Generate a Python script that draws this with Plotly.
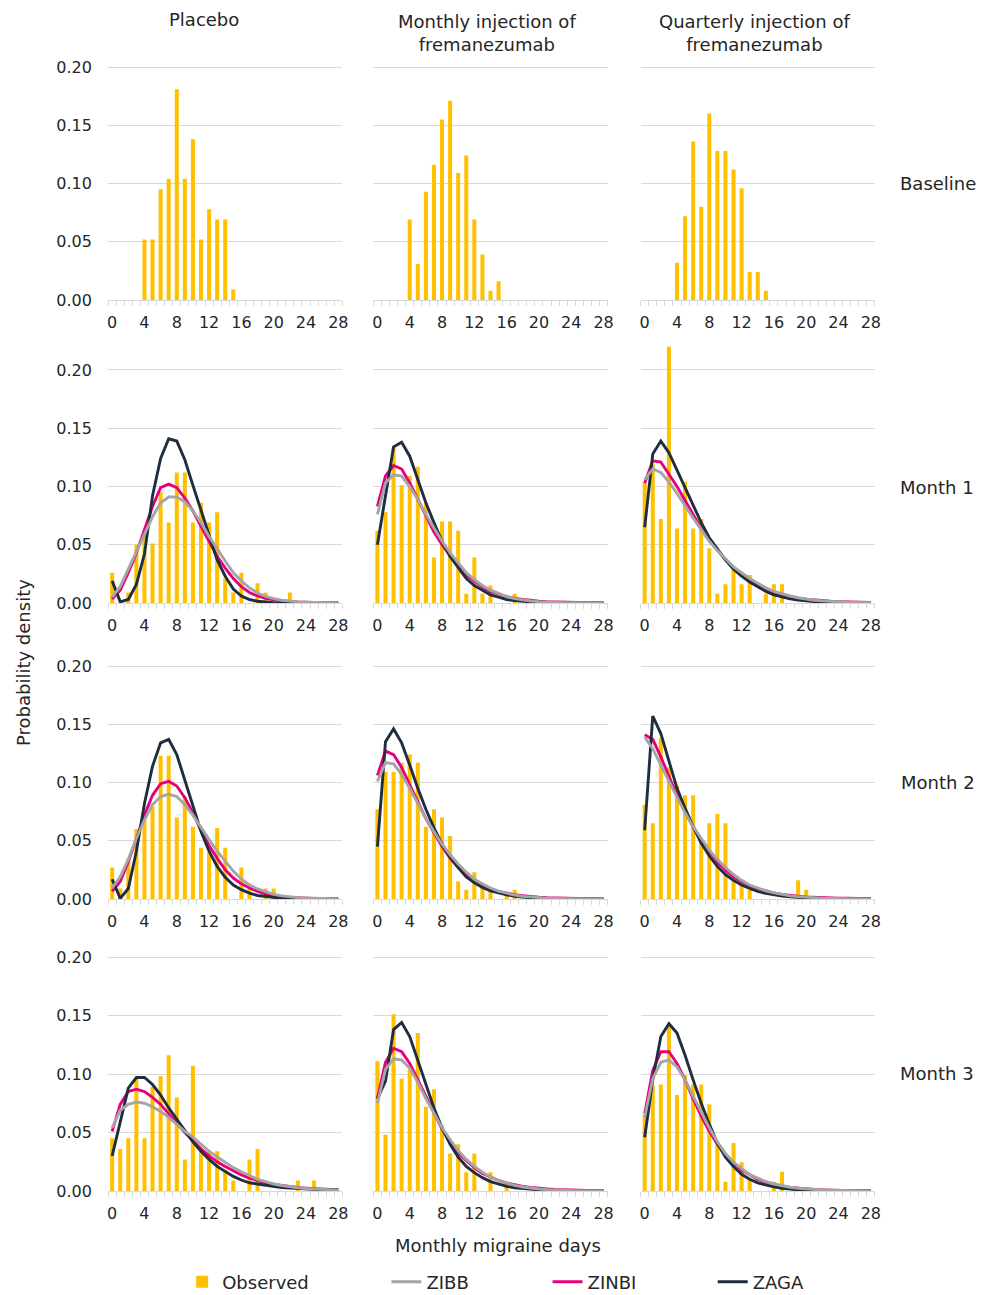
import plotly.graph_objects as go

# ---------------- data ----------------
days = list(range(29))
x_tick_vals = [0, 4, 8, 12, 16, 20, 24, 28]
y_tick_vals = [0.0, 0.05, 0.10, 0.15, 0.20]

column_titles = ["Placebo", "Monthly injection of<br>fremanezumab", "Quarterly injection of<br>fremanezumab"]
row_titles = ["Baseline", "Month 1", "Month 2", "Month 3"]
series_names = ["Observed", "ZIBB", "ZINBI", "ZAGA"]

def pad(v):
    return v + [0] * (29 - len(v))

# Observed (bars)
obs_base_pbo = pad([0, 0, 0, 0, 0.052, 0.052, 0.095, 0.104, 0.181, 0.104, 0.138, 0.052, 0.078, 0.069, 0.069, 0.009])
obs_base_mon = pad([0, 0, 0, 0, 0.069, 0.031, 0.093, 0.116, 0.155, 0.171, 0.109, 0.124, 0.069, 0.039, 0.008, 0.016])
obs_base_qtr = pad([0, 0, 0, 0, 0.032, 0.072, 0.136, 0.080, 0.160, 0.128, 0.128, 0.112, 0.096, 0.024, 0.024, 0.008])

obs_m1_pbo = pad([0.026, 0, 0.009, 0.050, 0.060, 0.051, 0.095, 0.069, 0.112, 0.112, 0.069, 0.086, 0.069, 0.078, 0.021, 0.009, 0.026, 0, 0.017, 0.009, 0, 0, 0.009])
obs_m1_mon = pad([0.062, 0.078, 0.133, 0.101, 0.109, 0.117, 0.086, 0.039, 0.070, 0.070, 0.062, 0.008, 0.039, 0.008, 0.015, 0, 0, 0.008])
obs_m1_qtr = pad([0.104, 0.119, 0.072, 0.220, 0.064, 0.104, 0.064, 0.072, 0.047, 0.008, 0.016, 0.032, 0.016, 0.024, 0, 0.008, 0.016, 0.016])

obs_m2_pbo = pad([0.027, 0.009, 0.035, 0.060, 0.070, 0.079, 0.123, 0.123, 0.070, 0.088, 0.062, 0.044, 0.040, 0.061, 0.044, 0, 0.027, 0.009, 0, 0.009, 0.009])
obs_m2_mon = pad([0.077, 0.109, 0.109, 0.117, 0.124, 0.117, 0.062, 0.077, 0.070, 0.054, 0.015, 0.008, 0.023, 0.012, 0.008, 0, 0.005, 0.008])
obs_m2_qtr = pad([0.081, 0.065, 0.138, 0.113, 0.097, 0.089, 0.089, 0.049, 0.065, 0.073, 0.065, 0.016, 0.016, 0.008, 0, 0, 0, 0, 0, 0.016, 0.008])

obs_m3_pbo = pad([0.045, 0.036, 0.045, 0.096, 0.045, 0.089, 0.098, 0.116, 0.080, 0.027, 0.107, 0.036, 0.034, 0.034, 0.018, 0.009, 0, 0.027, 0.036, 0, 0, 0, 0, 0.009, 0, 0.009])
obs_m3_mon = pad([0.111, 0.048, 0.151, 0.096, 0.104, 0.135, 0.072, 0.087, 0.056, 0.032, 0.040, 0.016, 0.032, 0, 0.016, 0, 0.008])
obs_m3_qtr = pad([0.065, 0.090, 0.091, 0.141, 0.082, 0.099, 0.091, 0.091, 0.074, 0.040, 0.008, 0.041, 0.0245, 0.011, 0, 0, 0.008, 0.0165])

# Fitted distributions (lines)
zibb_m1_pbo = [0.005, 0.014, 0.029, 0.044, 0.060, 0.074, 0.086, 0.091, 0.091, 0.087, 0.079, 0.069, 0.057, 0.046, 0.036, 0.026, 0.019, 0.013, 0.0086, 0.0057, 0.0037, 0.0024, 0.0015, 0.001, 0.0006, 0.0004, 0.0003, 0.0002, 0.0001]
zinbi_m1_pbo = [0.0034, 0.011, 0.026, 0.043, 0.063, 0.083, 0.099, 0.102, 0.099, 0.090, 0.079, 0.066, 0.053, 0.040, 0.030, 0.021, 0.014, 0.009, 0.006, 0.004, 0.0027, 0.0018, 0.0012, 0.0008, 0.0005, 0.0003, 0.0002, 0.0001, 0.0001]
zaga_m1_pbo = [0.019, 0.001, 0.003, 0.016, 0.042, 0.092, 0.124, 0.141, 0.139, 0.123, 0.101, 0.080, 0.057, 0.037, 0.023, 0.012, 0.006, 0.003, 0.0015, 0.0007, 0.0003, 0.0001, 0, 0, 0, 0, 0, 0, 0]

zibb_m1_mon = [0.076, 0.103, 0.110, 0.109, 0.100, 0.089, 0.076, 0.064, 0.053, 0.043, 0.034, 0.026, 0.020, 0.015, 0.011, 0.008, 0.0055, 0.0038, 0.0026, 0.0017, 0.0011, 0.0007, 0.0005, 0.0003, 0.0002, 0.0001, 0.0001, 0.0001, 0]
zinbi_m1_mon = [0.083, 0.109, 0.118, 0.115, 0.103, 0.089, 0.074, 0.061, 0.050, 0.040, 0.031, 0.024, 0.019, 0.014, 0.010, 0.0075, 0.0055, 0.004, 0.003, 0.002, 0.0015, 0.0011, 0.0008, 0.0006, 0.0004, 0.0003, 0.0002, 0.0002, 0.0001]
zaga_m1_mon = [0.050, 0.092, 0.134, 0.138, 0.126, 0.106, 0.086, 0.069, 0.053, 0.040, 0.030, 0.021, 0.015, 0.011, 0.007, 0.005, 0.003, 0.002, 0.0013, 0.0008, 0.0005, 0.0003, 0.0002, 0.0001, 0, 0, 0, 0, 0]

zibb_m1_qtr = [0.106, 0.115, 0.112, 0.104, 0.094, 0.083, 0.073, 0.063, 0.053, 0.045, 0.038, 0.031, 0.026, 0.021, 0.017, 0.013, 0.010, 0.0077, 0.006, 0.0045, 0.0033, 0.0024, 0.0018, 0.0013, 0.0009, 0.0007, 0.0005, 0.0003, 0.0002]
zinbi_m1_qtr = [0.103, 0.122, 0.121, 0.111, 0.100, 0.088, 0.076, 0.064, 0.054, 0.045, 0.037, 0.030, 0.024, 0.019, 0.015, 0.012, 0.009, 0.007, 0.0055, 0.0042, 0.0033, 0.0025, 0.0019, 0.0015, 0.0012, 0.0009, 0.0007, 0.0005, 0.0004]
zaga_m1_qtr = [0.065, 0.128, 0.139, 0.129, 0.114, 0.099, 0.083, 0.069, 0.056, 0.046, 0.037, 0.029, 0.023, 0.018, 0.014, 0.010, 0.007, 0.005, 0.0035, 0.0025, 0.0017, 0.0012, 0.0008, 0.0005, 0.0003, 0.0002, 0.0001, 0.0001, 0]

zibb_m2_pbo = [0.0094, 0.019, 0.034, 0.052, 0.068, 0.081, 0.088, 0.090, 0.088, 0.081, 0.072, 0.061, 0.051, 0.041, 0.032, 0.024, 0.017, 0.012, 0.0086, 0.006, 0.004, 0.0027, 0.0018, 0.0012, 0.0008, 0.0005, 0.0003, 0.0002, 0.0001]
zinbi_m2_pbo = [0.0066, 0.015, 0.032, 0.052, 0.072, 0.089, 0.099, 0.101, 0.097, 0.087, 0.074, 0.059, 0.046, 0.035, 0.025, 0.018, 0.013, 0.0094, 0.0066, 0.0045, 0.003, 0.002, 0.0014, 0.0009, 0.0006, 0.0004, 0.0003, 0.0002, 0.0001]
zaga_m2_pbo = [0.017, 0.0005, 0.009, 0.041, 0.082, 0.114, 0.134, 0.137, 0.124, 0.102, 0.079, 0.058, 0.041, 0.028, 0.0186, 0.012, 0.008, 0.005, 0.003, 0.002, 0.001, 0.0006, 0.0003, 0.0002, 0.0001, 0, 0, 0, 0]

zibb_m2_mon = [0.101, 0.117, 0.116, 0.107, 0.095, 0.082, 0.069, 0.058, 0.047, 0.038, 0.030, 0.023, 0.017, 0.013, 0.0094, 0.0068, 0.0048, 0.0034, 0.0023, 0.0016, 0.0011, 0.0007, 0.0005, 0.0003, 0.0002, 0.0001, 0.0001, 0.0001, 0]
zinbi_m2_mon = [0.106, 0.127, 0.124, 0.113, 0.098, 0.084, 0.069, 0.057, 0.045, 0.035, 0.027, 0.021, 0.016, 0.012, 0.0086, 0.0066, 0.005, 0.0038, 0.0028, 0.002, 0.0015, 0.0011, 0.0008, 0.0006, 0.0004, 0.0003, 0.0002, 0.0002, 0.0001]
zaga_m2_mon = [0.045, 0.135, 0.146, 0.134, 0.115, 0.095, 0.077, 0.061, 0.047, 0.036, 0.027, 0.019, 0.014, 0.010, 0.007, 0.005, 0.0035, 0.0024, 0.0016, 0.001, 0.0007, 0.0004, 0.0003, 0.0002, 0.0001, 0, 0, 0, 0]

zibb_m2_qtr = [0.139, 0.129, 0.115, 0.101, 0.087, 0.074, 0.062, 0.052, 0.042, 0.034, 0.027, 0.021, 0.016, 0.012, 0.0094, 0.007, 0.0052, 0.0038, 0.0027, 0.002, 0.0014, 0.001, 0.0007, 0.0005, 0.0003, 0.0002, 0.0002, 0.0001, 0.0001]
zinbi_m2_qtr = [0.141, 0.137, 0.122, 0.105, 0.089, 0.075, 0.062, 0.051, 0.041, 0.032, 0.025, 0.019, 0.015, 0.011, 0.0089, 0.0068, 0.0052, 0.004, 0.003, 0.0024, 0.0018, 0.0014, 0.0011, 0.0009, 0.0007, 0.0006, 0.0005, 0.0004, 0.0003]
zaga_m2_qtr = [0.059, 0.157, 0.142, 0.118, 0.095, 0.078, 0.062, 0.048, 0.037, 0.028, 0.021, 0.016, 0.012, 0.009, 0.0065, 0.0048, 0.0035, 0.0025, 0.0018, 0.0013, 0.0009, 0.0006, 0.0004, 0.0003, 0.0002, 0.0001, 0.0001, 0, 0]

zibb_m3_pbo = [0.054, 0.069, 0.074, 0.076, 0.075, 0.072, 0.068, 0.063, 0.057, 0.051, 0.046, 0.040, 0.034, 0.029, 0.0245, 0.020, 0.0165, 0.013, 0.010, 0.008, 0.006, 0.0047, 0.0036, 0.0028, 0.0021, 0.0016, 0.0012, 0.0009, 0.0007]
zinbi_m3_pbo = [0.051, 0.074, 0.085, 0.087, 0.085, 0.080, 0.074, 0.066, 0.058, 0.050, 0.043, 0.036, 0.030, 0.025, 0.021, 0.017, 0.0137, 0.011, 0.0088, 0.007, 0.0057, 0.0046, 0.0037, 0.003, 0.0025, 0.002, 0.0017, 0.0014, 0.0012]
zaga_m3_pbo = [0.030, 0.059, 0.088, 0.097, 0.097, 0.091, 0.082, 0.071, 0.061, 0.051, 0.042, 0.034, 0.027, 0.021, 0.0165, 0.0125, 0.0094, 0.007, 0.006, 0.0048, 0.0038, 0.003, 0.0025, 0.002, 0.0017, 0.0014, 0.0012, 0.001, 0.0008]

zibb_m3_mon = [0.075, 0.104, 0.113, 0.112, 0.105, 0.093, 0.079, 0.066, 0.054, 0.044, 0.0345, 0.027, 0.021, 0.016, 0.012, 0.009, 0.0066, 0.0048, 0.0034, 0.0024, 0.0017, 0.0012, 0.0008, 0.0006, 0.0004, 0.0003, 0.0002, 0.0001, 0.0001]
zinbi_m3_mon = [0.079, 0.110, 0.122, 0.119, 0.109, 0.095, 0.080, 0.066, 0.053, 0.042, 0.033, 0.026, 0.020, 0.015, 0.0117, 0.009, 0.0068, 0.0052, 0.004, 0.003, 0.0022, 0.0017, 0.0013, 0.001, 0.0008, 0.0006, 0.0004, 0.0003, 0.0002]
zaga_m3_mon = [0.079, 0.094, 0.138, 0.144, 0.132, 0.112, 0.091, 0.071, 0.054, 0.040, 0.029, 0.021, 0.0157, 0.0114, 0.008, 0.0057, 0.004, 0.0028, 0.002, 0.0014, 0.001, 0.0007, 0.0005, 0.0003, 0.0002, 0.0001, 0.0001, 0, 0]

zibb_m3_qtr = [0.063, 0.096, 0.110, 0.112, 0.106, 0.095, 0.081, 0.067, 0.054, 0.042, 0.032, 0.0245, 0.019, 0.014, 0.011, 0.008, 0.006, 0.0044, 0.0032, 0.0023, 0.0016, 0.0011, 0.0008, 0.0006, 0.0004, 0.0003, 0.0002, 0.0001, 0.0001]
zinbi_m3_qtr = [0.066, 0.103, 0.119, 0.119, 0.109, 0.095, 0.079, 0.064, 0.051, 0.040, 0.031, 0.024, 0.018, 0.0137, 0.010, 0.0077, 0.0057, 0.0042, 0.0031, 0.0023, 0.0017, 0.0013, 0.001, 0.0007, 0.0005, 0.0004, 0.0003, 0.0002, 0.0002]
zaga_m3_qtr = [0.046, 0.095, 0.132, 0.143, 0.135, 0.116, 0.095, 0.075, 0.057, 0.041, 0.029, 0.021, 0.0143, 0.010, 0.007, 0.005, 0.0035, 0.0024, 0.0016, 0.001, 0.0007, 0.0004, 0.0003, 0.0002, 0.0001, 0, 0, 0, 0]

observed = [
    [obs_base_pbo, obs_base_mon, obs_base_qtr],
    [obs_m1_pbo, obs_m1_mon, obs_m1_qtr],
    [obs_m2_pbo, obs_m2_mon, obs_m2_qtr],
    [obs_m3_pbo, obs_m3_mon, obs_m3_qtr],
]
fits = {
    1: [(zibb_m1_pbo, zinbi_m1_pbo, zaga_m1_pbo), (zibb_m1_mon, zinbi_m1_mon, zaga_m1_mon), (zibb_m1_qtr, zinbi_m1_qtr, zaga_m1_qtr)],
    2: [(zibb_m2_pbo, zinbi_m2_pbo, zaga_m2_pbo), (zibb_m2_mon, zinbi_m2_mon, zaga_m2_mon), (zibb_m2_qtr, zinbi_m2_qtr, zaga_m2_qtr)],
    3: [(zibb_m3_pbo, zinbi_m3_pbo, zaga_m3_pbo), (zibb_m3_mon, zinbi_m3_mon, zaga_m3_mon), (zibb_m3_qtr, zinbi_m3_qtr, zaga_m3_qtr)],
}

# ---------------- style / layout ----------------
REF_W, REF_H = 989, 1295          # coordinates below are measured on this grid
W, H = 997, 1305                  # figure size (compensates the capture scaling)
FONT = "DejaVu Sans"
TXT = "#262626"
GRID = "#d9d9d9"
C_OBS = "#FFC000"
C_ZIBB = "#A5A5A5"
C_ZINBI = "#E6007E"
C_ZAGA = "#1F2D40"
LW = 2.9

col_px = [(107, 341), (372, 606), (639, 873)]
row_px = [(300, 67), (603, 370), (899, 666), (1191, 957)]  # pixel y of 0 and of 0.20
Y_TOP = 0.225

def px_x(x):
    return x / REF_W

def px_y(y):
    return 1 - y / REF_H

fig = go.Figure()
layout = dict(
    width=W, height=H, margin=dict(l=0, r=0, t=0, b=0),
    paper_bgcolor="white", plot_bgcolor="white",
    font=dict(family=FONT, color=TXT, size=16),
    barmode="overlay",
)

for r in range(4):
    y0, y20 = row_px[r]
    per = (y0 - y20) / 0.20
    ytop = y0 - Y_TOP * per
    for c in range(3):
        k = r * 3 + c + 1
        xa = "x" if k == 1 else f"x{k}"
        ya = "y" if k == 1 else f"y{k}"
        layout["xaxis" if k == 1 else f"xaxis{k}"] = dict(
            domain=[px_x(col_px[c][0]), px_x(col_px[c][1])],
            anchor=ya, range=[-0.5, 28.5],
            tickmode="array", tickvals=x_tick_vals,
            ticks="outside", ticklen=8, tickcolor="rgba(0,0,0,0)",
            tickfont=dict(size=16, color=TXT, family=FONT),
            showline=True, linecolor=GRID, linewidth=1,
            showgrid=False, zeroline=False,
            minor=dict(tickvals=[i - 0.5 for i in range(30)], ticks="outside",
                       ticklen=5, tickcolor=GRID, showgrid=False),
            fixedrange=True,
        )
        layout["yaxis" if k == 1 else f"yaxis{k}"] = dict(
            domain=[px_y(y0), px_y(ytop)],
            anchor=xa, range=[0, Y_TOP],
            tickmode="array", tickvals=y_tick_vals, tickformat=".2f",
            showticklabels=(c == 0),
            ticks="outside" if c == 0 else "", ticklen=12, tickcolor="rgba(0,0,0,0)",
            tickfont=dict(size=16, color=TXT, family=FONT),
            showgrid=True, gridcolor=GRID, gridwidth=1,
            zeroline=False, showline=False, fixedrange=True,
        )
        fig.add_trace(go.Bar(
            x=days, y=observed[r][c], width=0.5, marker=dict(color=C_OBS, line=dict(width=0)),
            name=series_names[0], xaxis=xa, yaxis=ya,
            showlegend=(r == 0 and c == 0), legend="legend",
        ))
        if r > 0:
            zibb, zinbi, zaga = fits[r][c]
            first = (r == 1 and c == 0)
            fig.add_trace(go.Scatter(x=days, y=zinbi, mode="lines", name=series_names[2],
                                     line=dict(color=C_ZINBI, width=LW), xaxis=xa, yaxis=ya,
                                     showlegend=first, legend="legend3"))
            fig.add_trace(go.Scatter(x=days, y=zaga, mode="lines", name=series_names[3],
                                     line=dict(color=C_ZAGA, width=LW), xaxis=xa, yaxis=ya,
                                     showlegend=first, legend="legend4"))
            fig.add_trace(go.Scatter(x=days, y=zibb, mode="lines", name=series_names[1],
                                     line=dict(color=C_ZIBB, width=LW), xaxis=xa, yaxis=ya,
                                     showlegend=first, legend="legend2"))

# legends (one per entry, placed independently)
leg_y = px_y(1282)
for key, xp in [("legend", 181), ("legend2", 385), ("legend3", 546), ("legend4", 711)]:
    layout[key] = dict(x=px_x(xp), y=leg_y, xanchor="left", yanchor="middle",
                       orientation="h", bgcolor="rgba(0,0,0,0)", borderwidth=0,
                       font=dict(size=18, color=TXT, family=FONT), itemwidth=30)

annotations = []
col_title_pos = [(203, 20), (486, 33), (753, 33)]
for (xp, yp), t in zip(col_title_pos, column_titles):
    annotations.append(dict(text=t, x=px_x(xp), y=px_y(yp), xref="paper", yref="paper",
                            xanchor="center", yanchor="middle", showarrow=False,
                            font=dict(size=18, color=TXT, family=FONT)))
row_title_pos = [(936, 184), (935, 487), (936, 782), (935, 1073)]
for (xp, yp), t in zip(row_title_pos, row_titles):
    annotations.append(dict(text=t, x=px_x(xp), y=px_y(yp), xref="paper", yref="paper",
                            xanchor="center", yanchor="middle", showarrow=False,
                            font=dict(size=18, color=TXT, family=FONT)))
annotations.append(dict(text="Probability density", x=px_x(22), y=px_y(663), xref="paper", yref="paper",
                        xanchor="center", yanchor="middle", showarrow=False, textangle=-90,
                        font=dict(size=18, color=TXT, family=FONT)))
annotations.append(dict(text="Monthly migraine days", x=px_x(496), y=px_y(1245), xref="paper", yref="paper",
                        xanchor="center", yanchor="middle", showarrow=False,
                        font=dict(size=18, color=TXT, family=FONT)))
layout["annotations"] = annotations

fig.update_layout(**layout)
post = ("document.documentElement.style.margin='0';document.documentElement.style.padding='0';"
        "document.documentElement.style.overflow='hidden';"
        "document.body.style.margin='0';document.body.style.padding='0';"
        "document.body.style.overflow='hidden';")
fig.write_html("out.html", post_script=post, config={"displayModeBar": False})
